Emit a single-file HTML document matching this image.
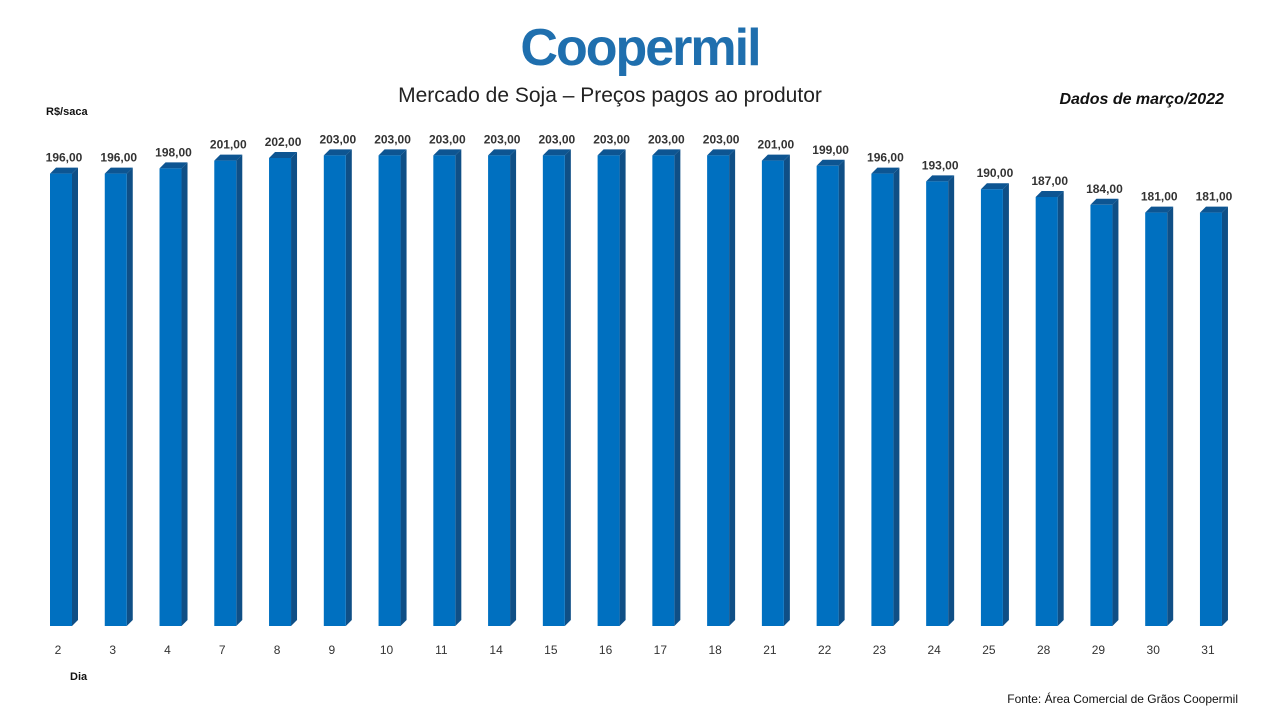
<!DOCTYPE html>
<html><head><meta charset="utf-8"><style>
body{margin:0;background:#fff;width:1280px;height:720px;overflow:hidden;font-family:"Liberation Sans",sans-serif}
</style></head><body>
<svg width="1280" height="720">
<text x="640" y="65" text-anchor="middle" font-size="52" font-weight="bold" fill="#1f6fae" letter-spacing="-2">Coopermil</text>
<text x="610" y="102" text-anchor="middle" font-size="21" fill="#222">Mercado de Soja – Preços pagos ao produtor</text>
<text x="1224" y="104" text-anchor="end" font-size="16" font-weight="bold" font-style="italic" fill="#111">Dados de março/2022</text>
<text x="46" y="115" font-size="11" font-weight="bold" fill="#111">R$/saca</text>
<text x="70" y="680" font-size="11" font-weight="bold" fill="#111">Dia</text>
<text x="1238" y="703" text-anchor="end" font-size="12" fill="#111">Fonte:  Área Comercial de Grãos Coopermil</text>
<g id="bars"></g>
</svg>
<script>
const days=["2","3","4","7","8","9","10","11","14","15","16","17","18","21","22","23","24","25","28","29","30","31"];
const prices=[196,196,198,201,202,203,203,203,203,203,203,203,203,201,199,196,193,190,187,184,181,181];
const NS="http://www.w3.org/2000/svg";
const g=document.getElementById("bars");
const base=626,yMin=22,k=2.6;
function y(v){return base-(v-yMin)*k;}
function x(i){return 50+i*54.76;}
const W=22,D=6;
function mk(t,a){const e=document.createElementNS(NS,t);for(const n in a)e.setAttribute(n,a[n]);g.appendChild(e);return e;}
days.forEach((d,i)=>{
 const x0=x(i),yt=y(prices[i]);
 const side=mk("polygon",{points:`${x0+W},${yt} ${x0+W+D},${yt-D} ${x0+W+D},${base-D} ${x0+W},${base}`,fill:"#0f4f86"});
 
 
 const top=mk("polygon",{points:`${x0},${yt} ${x0+D},${yt-D} ${x0+W+D},${yt-D} ${x0+W},${yt}`,fill:"#0d5592"});
 
 
 const r=mk("rect",{x:x0,y:yt,width:W,height:base-yt,fill:"#0070c0"});
 
 
 const t=mk("text",{x:x0+W/2+3,y:yt-12,"text-anchor":"middle","font-size":"12","font-weight":"bold",fill:"#333"});
 t.textContent=prices[i].toFixed(2).replace(".",",");
 
 
 const l=mk("text",{x:x0+8,y:654,"text-anchor":"middle","font-size":"12",fill:"#333"});
 l.textContent=d;
 
 
});
</script>
</body></html>
